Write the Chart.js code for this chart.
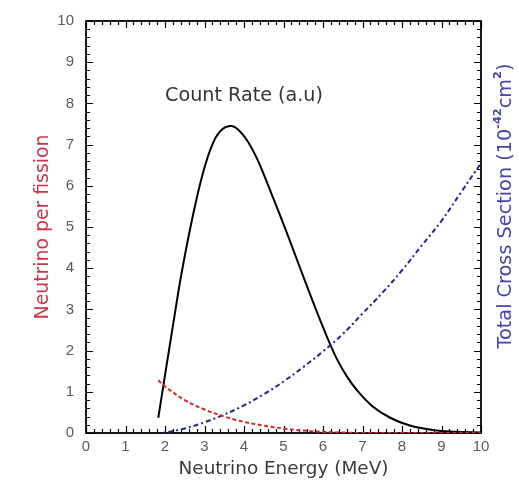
<!DOCTYPE html>
<html>
<head>
<meta charset="utf-8">
<script src="https://cdn.jsdelivr.net/npm/chart.js@4.4.1/dist/chart.umd.min.js"></script>
<style>
  html, body { margin: 0; padding: 0; background: #fff; }
  canvas { display: block; }
</style>
</head>
<body>
<canvas id="spectrumChart" width="519" height="483"></canvas>
<script>
// Values
const axisTicks = [0, 1, 2, 3, 4, 5, 6, 7, 8, 9, 10];

const countEnergy = [1.83, 2.0, 2.2, 2.42, 2.7, 2.97, 3.22, 3.45, 3.69, 3.9, 4.1, 4.3, 4.5, 4.74, 5.0, 5.25, 5.5, 5.8, 6.0, 6.16, 6.35, 6.6, 6.85, 7.25, 7.7, 8.2, 8.79, 9.3, 10];
const countRate = [0.37, 1.4, 2.6, 3.88, 5.25, 6.34, 7.05, 7.37, 7.45, 7.32, 7.07, 6.72, 6.28, 5.7, 5.07, 4.44, 3.8, 3.05, 2.57, 2.2, 1.8, 1.38, 1.05, 0.65, 0.37, 0.18, 0.07, 0.03, 0.01];

const fluxEnergy = [1.83, 2.0, 2.5, 3.0, 3.5, 4.0, 4.5, 5.0, 5.5, 6.0, 6.5, 7.0, 8.0, 9.0, 10];
const fluxPerFission = [1.28, 1.13, 0.8, 0.57, 0.4, 0.27, 0.18, 0.11, 0.06, 0.03, 0.01, 0, 0, 0, 0];

const xsecEnergy = [1.96, 2.5, 3.0, 3.5, 4.0, 4.5, 5.0, 5.5, 6.0, 6.5, 7.0, 7.5, 8.0, 8.5, 9.0, 9.5, 10];
const crossSection = [0, 0.11, 0.26, 0.45, 0.67, 0.94, 1.25, 1.6, 1.98, 2.4, 2.9, 3.4, 3.95, 4.55, 5.15, 5.85, 6.55];

function toPoints(xs, ys) {
    return xs.map((x, i) => ({ x: x, y: ys[i] }));
}

const tickFont = '"Liberation Sans", Arial, sans-serif';
const titleFont = '"DejaVu Sans", sans-serif';

// pick a font size so the text spans about the same width as in the reference
function fitFont(ctx, text, width) {
    ctx.font = '20px ' + titleFont;
    return 20 * width / ctx.measureText(text).width;
}

// Frame and inward tick marks under the curves, text labels on top
const framePlugin = {
    id: 'frame',
    beforeDatasetsDraw(chart) {
        const ctx = chart.ctx;
        const a = chart.chartArea;
        const xs = chart.scales.x;
        const ys = chart.scales.y;
        ctx.save();
        ctx.strokeStyle = '#000';
        ctx.lineWidth = 1.2;
        for (let i = 0; i <= 50; i++) {
            const v = i * 0.2;
            const len = i % 5 === 0 ? 7 : 4;
            const px = Math.round(xs.getPixelForValue(v)) + 0.5;
            const py = Math.round(ys.getPixelForValue(v)) + 0.5;
            ctx.beginPath();
            ctx.moveTo(px, a.bottom); ctx.lineTo(px, a.bottom - len);
            ctx.moveTo(px, a.top); ctx.lineTo(px, a.top + len);
            ctx.moveTo(a.left, py); ctx.lineTo(a.left + len, py);
            ctx.moveTo(a.right, py); ctx.lineTo(a.right - len, py);
            ctx.stroke();
        }
        ctx.lineWidth = 1.8;
        ctx.strokeRect(a.left, a.top, a.right - a.left, a.bottom - a.top);
        ctx.restore();
    },
    afterDatasetsDraw(chart) {
        const ctx = chart.ctx;
        const a = chart.chartArea;
        const xs = chart.scales.x;
        const ys = chart.scales.y;
        ctx.save();
        ctx.textAlign = 'center';
        ctx.textBaseline = 'middle';

        // curve label
        let size = fitFont(ctx, 'Count Rate (a.u)', 158);
        ctx.fillStyle = '#333';
        ctx.font = size + 'px ' + titleFont;
        ctx.fillText('Count Rate (a.u)', xs.getPixelForValue(4.0), ys.getPixelForValue(8.17));

        // x axis title
        size = fitFont(ctx, 'Neutrino Energy (MeV)', 210);
        ctx.fillStyle = '#3a3a3a';
        ctx.font = size + 'px ' + titleFont;
        ctx.fillText('Neutrino Energy (MeV)', (a.left + a.right) / 2, 469);

        // left axis title
        size = fitFont(ctx, 'Neutrino per fission', 185);
        ctx.save();
        ctx.translate(43, (a.top + a.bottom) / 2);
        ctx.rotate(-Math.PI / 2);
        ctx.fillStyle = '#c8364a';
        ctx.font = size + 'px ' + titleFont;
        ctx.fillText('Neutrino per fission', 0, 0);
        ctx.restore();

        // right axis title with superscripts
        const parts = [
            { t: 'Total Cross Section (10', sup: false },
            { t: '-42', sup: true },
            { t: 'cm', sup: false },
            { t: '2', sup: true },
            { t: ')', sup: false }
        ];
        const normal = '17px ' + titleFont;
        const small = 'bold 10px ' + titleFont;
        let total = 0;
        parts.forEach(p => {
            ctx.font = p.sup ? small : normal;
            p.w = ctx.measureText(p.t).width;
            total += p.w;
        });
        const k = 285 / total;
        ctx.save();
        ctx.translate(506, 206);
        ctx.rotate(-Math.PI / 2);
        ctx.scale(k, k);
        ctx.fillStyle = '#4545a8';
        ctx.textAlign = 'left';
        let cx = -total / 2;
        parts.forEach(p => {
            ctx.font = p.sup ? small : normal;
            ctx.fillText(p.t, cx, p.sup ? -7 : 0);
            cx += p.w;
        });
        ctx.restore();
        ctx.restore();
    }
};

new Chart(document.getElementById('spectrumChart'), {
    type: 'scatter',
    data: {
        datasets: [
            {
                label: 'Neutrino per fission',
                data: toPoints(fluxEnergy, fluxPerFission),
                showLine: true,
                borderColor: '#d02a2a',
                borderWidth: 2,
                borderDash: [4, 2.5],
                pointRadius: 0,
                tension: 0.4
            },
            {
                label: 'Total Cross Section',
                data: toPoints(xsecEnergy, crossSection),
                showLine: true,
                borderColor: '#25258f',
                borderWidth: 2,
                borderDash: [2, 3, 5, 3],
                pointRadius: 0,
                tension: 0.4
            },
            {
                label: 'Count Rate (a.u)',
                data: toPoints(countEnergy, countRate),
                showLine: true,
                borderColor: '#000',
                borderWidth: 2,
                pointRadius: 0,
                tension: 0.4
            }
        ]
    },
    options: {
        responsive: false,
        animation: false,
        devicePixelRatio: 1,
        layout: { padding: { top: 13, right: 38, left: 0, bottom: 0 } },
        plugins: {
            legend: { display: false },
            tooltip: { enabled: false }
        },
        scales: {
            x: {
                type: 'linear',
                min: 0,
                max: 10,
                afterBuildTicks: s => { s.ticks = axisTicks.map(v => ({ value: v })); },
                afterFit: s => { s.height = 50; },
                grid: { display: false, drawTicks: false },
                border: { display: false },
                ticks: { color: '#5a5a5a', font: { size: 15, family: tickFont }, padding: 5, autoSkip: false, maxRotation: 0 }
            },
            y: {
                type: 'linear',
                min: 0,
                max: 10,
                afterBuildTicks: s => { s.ticks = axisTicks.map(v => ({ value: v })); },
                afterFit: s => { s.width = 86; },
                grid: { display: false, drawTicks: false },
                border: { display: false },
                ticks: { color: '#5a5a5a', font: { size: 15, family: tickFont }, padding: 12, autoSkip: false }
            }
        }
    },
    plugins: [framePlugin]
});
</script>
</body>
</html>
